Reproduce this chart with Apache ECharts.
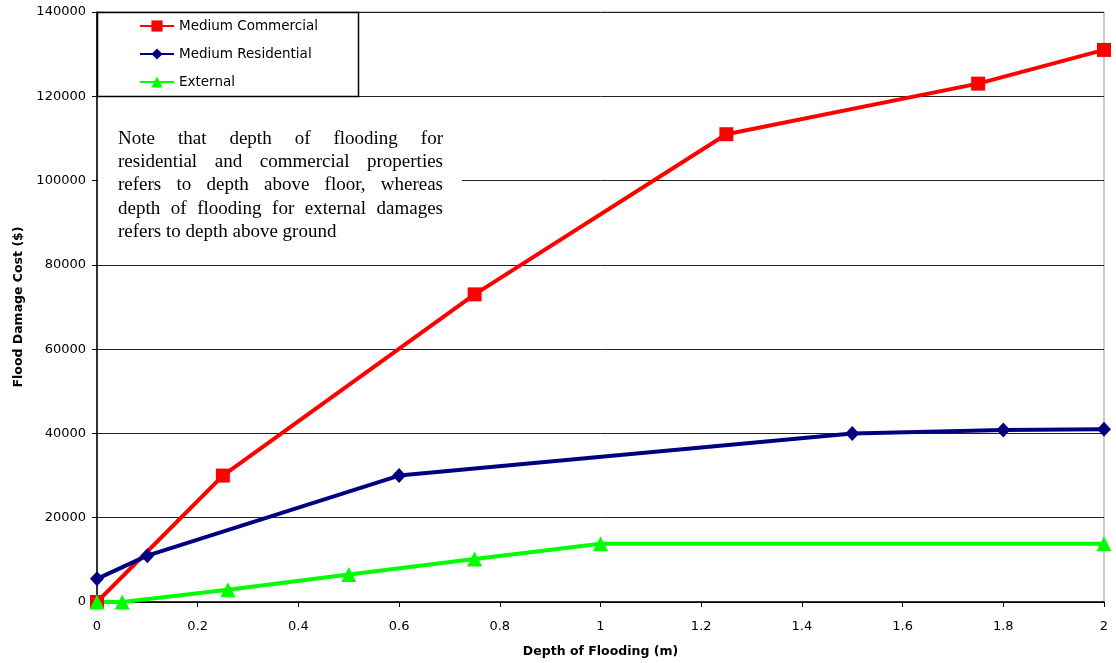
<!DOCTYPE html>
<html>
<head>
<meta charset="utf-8">
<script src="https://cdn.jsdelivr.net/npm/echarts@6/dist/echarts.min.js"></script>
<style>
html,body{margin:0;padding:0;background:#fff;}
#chart{width:1116px;height:663px;}
</style>
</head>
<body>
<div id="chart"></div>
<script>
// ---- Data ----
const seriesNames = ['Medium Commercial', 'Medium Residential', 'External'];
const depthCommercial = [0, 0.25, 0.75, 1.25, 1.75, 2];
const costCommercial = [0, 30000, 73000, 111000, 123000, 131000];
const depthResidential = [0, 0.1, 0.6, 1.5, 1.8, 2];
const costResidential = [5500, 11000, 30000, 40000, 40800, 41000];
const depthExternal = [0, 0.05, 0.26, 0.5, 0.75, 1, 2];
const costExternal = [0, 0, 2900, 6500, 10200, 13800, 13800];
const xTicks = [0, 0.2, 0.4, 0.6, 0.8, 1, 1.2, 1.4, 1.6, 1.8, 2];
const yTicks = [0, 20000, 40000, 60000, 80000, 100000, 120000, 140000];
const xAxisTitle = 'Depth of Flooding (m)';
const yAxisTitle = 'Flood Damage Cost ($)';
const noteLines = [
  'Note that depth of flooding for',
  'residential and commercial properties',
  'refers to depth above floor, whereas',
  'depth of flooding for external damages',
  'refers to depth above ground'
];

const pairs = (xs, ys) => xs.map((x, i) => [x, ys[i]]);

// ---- Note text (justified) ----
const noteFont = '19px "Liberation Serif"';
const noteLeft = 118, noteRight = 443;
const noteY = [139, 162, 185.3, 208.6, 232];
const cv = document.createElement('canvas').getContext('2d');
cv.font = noteFont;
const noteEls = [];
noteLines.forEach((line, li) => {
  const words = line.split(' ');
  const last = li === noteLines.length - 1;
  const widths = words.map(w => cv.measureText(w).width);
  const total = widths.reduce((a, b) => a + b, 0);
  const gap = last ? cv.measureText(' ').width : (noteRight - noteLeft - total) / (words.length - 1);
  let x = noteLeft;
  words.forEach((w, i) => {
    noteEls.push({
      type: 'text', x: x, y: noteY[li], z: 7,
      style: { text: w, font: noteFont, fill: '#000', verticalAlign: 'middle', align: 'left' }
    });
    x += widths[i] + gap;
  });
});

const chart = echarts.init(document.getElementById('chart'), null, { renderer: 'canvas' });
const axisFont = { fontFamily: 'DejaVu Sans', fontSize: 13, color: '#000' };

chart.setOption({
  animation: false,
  backgroundColor: '#fff',
  grid: { left: 97, right: 12, top: 12, bottom: 61, show: true, borderColor: '#999', borderWidth: 1, backgroundColor: 'transparent' },
  xAxis: {
    type: 'value', min: xTicks[0], max: xTicks[xTicks.length - 1], interval: 0.2,
    name: xAxisTitle, nameLocation: 'middle', nameGap: 43,
    nameTextStyle: { fontFamily: 'DejaVu Sans', fontWeight: 'bold', fontSize: 12.5, color: '#000' },
    axisLine: { show: true, onZero: false, lineStyle: { color: '#000', width: 1.5 } },
    axisTick: { show: true, inside: false, length: 5, lineStyle: { color: '#000' } },
    axisLabel: Object.assign({ margin: 18, formatter: v => String(+(+v).toFixed(1)) }, axisFont),
    splitLine: { show: false }
  },
  yAxis: {
    type: 'value', min: yTicks[0], max: yTicks[yTicks.length - 1], interval: 20000,
    name: yAxisTitle, nameLocation: 'middle', nameGap: 72,
    nameTextStyle: { fontFamily: 'DejaVu Sans', fontWeight: 'bold', fontSize: 12.5, color: '#000' },
    axisLine: { show: true, lineStyle: { color: '#000', width: 1.5 } },
    axisTick: { show: true, inside: false, length: 5, lineStyle: { color: '#000' } },
    axisLabel: Object.assign({ margin: 11, formatter: v => String(v) }, axisFont),
    splitLine: { show: true, lineStyle: { color: '#222', width: 1 } }
  },
  legend: {
    orient: 'vertical', left: 139, top: 19, itemGap: 14, itemWidth: 34, itemHeight: 14, z: 10,
    padding: 0,
    textStyle: { fontFamily: 'DejaVu Sans', fontSize: 13.5, color: '#000' },
    data: seriesNames
  },
  graphic: [
    { type: 'rect', z: 5, shape: { x: 97.5, y: 12.5, width: 261, height: 84 }, style: { fill: '#fff', stroke: '#000', lineWidth: 1.5 } },
    { type: 'rect', z: 5, shape: { x: 98, y: 102, width: 364, height: 152 }, style: { fill: '#fff', stroke: null } }
  ].concat(noteEls),
  series: [
    {
      name: seriesNames[0], type: 'line', data: pairs(depthCommercial, costCommercial),
      symbol: 'rect', symbolSize: 14, itemStyle: { color: '#ff0000' },
      lineStyle: { color: '#ff0000', width: 4 }, z: 3
    },
    {
      name: seriesNames[1], type: 'line', data: pairs(depthResidential, costResidential),
      symbol: 'diamond', symbolSize: [14, 15], itemStyle: { color: '#000080' },
      lineStyle: { color: '#000080', width: 4 }, z: 3
    },
    {
      name: seriesNames[2], type: 'line', data: pairs(depthExternal, costExternal),
      symbol: 'triangle', symbolSize: 15, itemStyle: { color: '#00ff00' },
      lineStyle: { color: '#00ff00', width: 4 }, z: 3
    }
  ]
});
</script>
</body>
</html>
